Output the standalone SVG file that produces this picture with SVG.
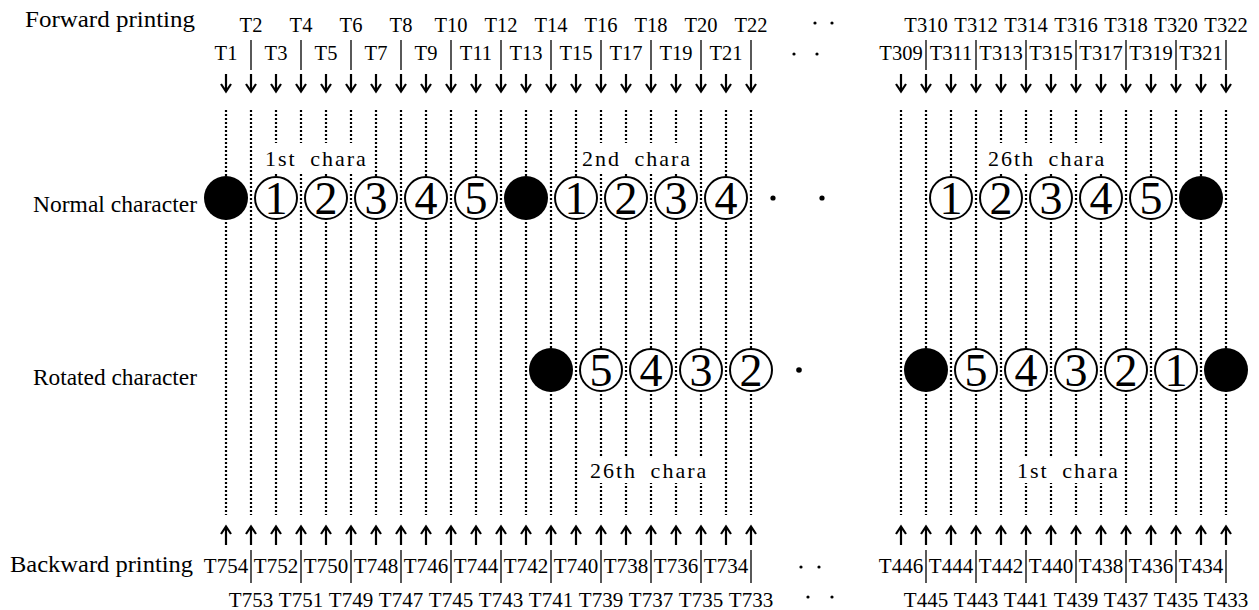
<svg xmlns="http://www.w3.org/2000/svg" xmlns:xlink="http://www.w3.org/1999/xlink" width="1259" height="610" viewBox="0 0 1259 610">
<style>
text{font-family:"Liberation Serif","Times New Roman",serif;fill:#000}
.big{font-size:23px}
.tl{font-size:20.5px;text-anchor:middle}
.bl{font-size:21px;text-anchor:middle}
.ch{font-size:22px;letter-spacing:2px;word-spacing:6px}
.dig{font-size:46px;text-anchor:middle}
.dot{fill:none;stroke:#000;stroke-width:2.2;stroke-dasharray:2 2}
.sep{fill:none;stroke:#000;stroke-width:1.3}
.arr{fill:none;stroke:#000;stroke-width:2.2}
.open{fill:#fff;stroke:#000;stroke-width:2}
.fill{fill:#000}
.bg{fill:#fff}
.pt{fill:#000}
</style>
<defs>
<path id="ad" class="arr" d="M0 74V91M-5 84L0 91.5L5 84"/>
<path id="au" class="arr" d="M0 545V527M-5 534L0 526.5L5 534"/>
</defs>
<rect width="1259" height="610" fill="#fff"/>

<g id="connectors">
<path class="dot" d="M226 110V515M251 110V515M276 110V515M301 110V515M326 110V515M351 110V515M376 110V515M401 110V515M426 110V515M451 110V515M476 110V515M501 110V515M526 110V515M551 110V515M576 110V515M601 110V515M626 110V515M651 110V515M676 110V515M701 110V515M726 110V515M751 110V515M901 110V515M926 110V515M951 110V515M976 110V515M1001 110V515M1026 110V515M1051 110V515M1076 110V515M1101 110V515M1126 110V515M1151 110V515M1176 110V515M1201 110V515M1226 110V515"/>
<g id="arrows-down">
<use xlink:href="#ad" x="226"/><use xlink:href="#ad" x="251"/><use xlink:href="#ad" x="276"/><use xlink:href="#ad" x="301"/><use xlink:href="#ad" x="326"/><use xlink:href="#ad" x="351"/><use xlink:href="#ad" x="376"/><use xlink:href="#ad" x="401"/><use xlink:href="#ad" x="426"/><use xlink:href="#ad" x="451"/><use xlink:href="#ad" x="476"/><use xlink:href="#ad" x="501"/><use xlink:href="#ad" x="526"/><use xlink:href="#ad" x="551"/><use xlink:href="#ad" x="576"/><use xlink:href="#ad" x="601"/><use xlink:href="#ad" x="626"/><use xlink:href="#ad" x="651"/><use xlink:href="#ad" x="676"/><use xlink:href="#ad" x="701"/><use xlink:href="#ad" x="726"/><use xlink:href="#ad" x="751"/>
<use xlink:href="#ad" x="901"/><use xlink:href="#ad" x="926"/><use xlink:href="#ad" x="951"/><use xlink:href="#ad" x="976"/><use xlink:href="#ad" x="1001"/><use xlink:href="#ad" x="1026"/><use xlink:href="#ad" x="1051"/><use xlink:href="#ad" x="1076"/><use xlink:href="#ad" x="1101"/><use xlink:href="#ad" x="1126"/><use xlink:href="#ad" x="1151"/><use xlink:href="#ad" x="1176"/><use xlink:href="#ad" x="1201"/><use xlink:href="#ad" x="1226"/>
</g>
<g id="arrows-up">
<use xlink:href="#au" x="226"/><use xlink:href="#au" x="251"/><use xlink:href="#au" x="276"/><use xlink:href="#au" x="301"/><use xlink:href="#au" x="326"/><use xlink:href="#au" x="351"/><use xlink:href="#au" x="376"/><use xlink:href="#au" x="401"/><use xlink:href="#au" x="426"/><use xlink:href="#au" x="451"/><use xlink:href="#au" x="476"/><use xlink:href="#au" x="501"/><use xlink:href="#au" x="526"/><use xlink:href="#au" x="551"/><use xlink:href="#au" x="576"/><use xlink:href="#au" x="601"/><use xlink:href="#au" x="626"/><use xlink:href="#au" x="651"/><use xlink:href="#au" x="676"/><use xlink:href="#au" x="701"/><use xlink:href="#au" x="726"/><use xlink:href="#au" x="751"/>
<use xlink:href="#au" x="901"/><use xlink:href="#au" x="926"/><use xlink:href="#au" x="951"/><use xlink:href="#au" x="976"/><use xlink:href="#au" x="1001"/><use xlink:href="#au" x="1026"/><use xlink:href="#au" x="1051"/><use xlink:href="#au" x="1076"/><use xlink:href="#au" x="1101"/><use xlink:href="#au" x="1126"/><use xlink:href="#au" x="1151"/><use xlink:href="#au" x="1176"/><use xlink:href="#au" x="1201"/><use xlink:href="#au" x="1226"/>
</g>
<path class="sep" d="M251 40V70M301 40V70M351 40V70M401 40V70M451 40V70M501 40V70M551 40V70M601 40V70M651 40V70M701 40V70M751 40V70M926 40V70M976 40V70M1026 40V70M1076 40V70M1126 40V70M1176 40V70M1226 40V70"/>
<path class="sep" d="M251 550V583M301 550V583M351 550V583M401 550V583M451 550V583M501 550V583M551 550V583M601 550V583M651 550V583M701 550V583M751 550V583M926 550V583M976 550V583M1026 550V583M1076 550V583M1126 550V583M1176 550V583M1226 550V583"/>
</g>

<g id="row-labels">
<text class="big" x="25" y="27" textLength="170" lengthAdjust="spacingAndGlyphs">Forward printing</text>
<text class="big" x="33" y="212" textLength="164" lengthAdjust="spacingAndGlyphs">Normal character</text>
<text class="big" x="33" y="385" textLength="164" lengthAdjust="spacingAndGlyphs">Rotated character</text>
<text class="big" x="10" y="572" textLength="183" lengthAdjust="spacingAndGlyphs">Backward printing</text>
</g>

<g id="forward-labels">
<text class="tl" x="251" y="32">T2</text><text class="tl" x="301" y="32">T4</text><text class="tl" x="351" y="32">T6</text><text class="tl" x="401" y="32">T8</text><text class="tl" x="451" y="32">T10</text><text class="tl" x="501" y="32">T12</text><text class="tl" x="551" y="32">T14</text><text class="tl" x="601" y="32">T16</text><text class="tl" x="651" y="32">T18</text><text class="tl" x="701" y="32">T20</text><text class="tl" x="751" y="32">T22</text>
<text class="tl" x="226" y="60">T1</text><text class="tl" x="276" y="60">T3</text><text class="tl" x="326" y="60">T5</text><text class="tl" x="376" y="60">T7</text><text class="tl" x="426" y="60">T9</text><text class="tl" x="476" y="60">T11</text><text class="tl" x="526" y="60">T13</text><text class="tl" x="576" y="60">T15</text><text class="tl" x="626" y="60">T17</text><text class="tl" x="676" y="60">T19</text><text class="tl" x="726" y="60">T21</text>
<text class="tl" x="926" y="32">T310</text><text class="tl" x="976" y="32">T312</text><text class="tl" x="1026" y="32">T314</text><text class="tl" x="1076" y="32">T316</text><text class="tl" x="1126" y="32">T318</text><text class="tl" x="1176" y="32">T320</text><text class="tl" x="1226" y="32">T322</text>
<text class="tl" x="901" y="60">T309</text><text class="tl" x="951" y="60">T311</text><text class="tl" x="1001" y="60">T313</text><text class="tl" x="1051" y="60">T315</text><text class="tl" x="1101" y="60">T317</text><text class="tl" x="1151" y="60">T319</text><text class="tl" x="1201" y="60">T321</text>
<circle class="pt" cx="815" cy="23" r="1.6"/><circle class="pt" cx="832" cy="23" r="1.6"/>
<circle class="pt" cx="794" cy="54" r="1.6"/><circle class="pt" cx="817" cy="54" r="1.6"/>
</g>

<g id="backward-labels">
<text class="bl" x="226" y="573">T754</text><text class="bl" x="276" y="573">T752</text><text class="bl" x="326" y="573">T750</text><text class="bl" x="376" y="573">T748</text><text class="bl" x="426" y="573">T746</text><text class="bl" x="476" y="573">T744</text><text class="bl" x="526" y="573">T742</text><text class="bl" x="576" y="573">T740</text><text class="bl" x="626" y="573">T738</text><text class="bl" x="676" y="573">T736</text><text class="bl" x="726" y="573">T734</text>
<text class="bl" x="251" y="607">T753</text><text class="bl" x="301" y="607">T751</text><text class="bl" x="351" y="607">T749</text><text class="bl" x="401" y="607">T747</text><text class="bl" x="451" y="607">T745</text><text class="bl" x="501" y="607">T743</text><text class="bl" x="551" y="607">T741</text><text class="bl" x="601" y="607">T739</text><text class="bl" x="651" y="607">T737</text><text class="bl" x="701" y="607">T735</text><text class="bl" x="751" y="607">T733</text>
<text class="bl" x="901" y="573">T446</text><text class="bl" x="951" y="573">T444</text><text class="bl" x="1001" y="573">T442</text><text class="bl" x="1051" y="573">T440</text><text class="bl" x="1101" y="573">T438</text><text class="bl" x="1151" y="573">T436</text><text class="bl" x="1201" y="573">T434</text>
<text class="bl" x="926" y="607">T445</text><text class="bl" x="976" y="607">T443</text><text class="bl" x="1026" y="607">T441</text><text class="bl" x="1076" y="607">T439</text><text class="bl" x="1126" y="607">T437</text><text class="bl" x="1176" y="607">T435</text><text class="bl" x="1226" y="607">T433</text>
<circle class="pt" cx="801" cy="567" r="1.6"/><circle class="pt" cx="819" cy="567" r="1.6"/>
<circle class="pt" cx="808" cy="597" r="1.6"/><circle class="pt" cx="832" cy="597" r="1.6"/>
</g>

<g id="chara-labels">
<g id="label-1st-top"><rect class="bg" x="259" y="143" width="111" height="29"/><text class="ch" x="265" y="166">1st chara</text></g>
<g id="label-2nd-top"><rect class="bg" x="579" y="143" width="119" height="29"/><text class="ch" x="582" y="166">2nd chara</text></g>
<g id="label-26th-top"><rect class="bg" x="980" y="143" width="140" height="29"/><text class="ch" x="988" y="166">26th chara</text></g>
<g id="label-26th-bottom"><rect class="bg" x="580" y="457" width="140" height="26"/><text class="ch" x="590" y="478">26th chara</text></g>
<g id="label-1st-bottom"><rect class="bg" x="1005" y="457" width="117" height="26"/><text class="ch" x="1017" y="478">1st chara</text></g>
</g>

<g id="normal-row">
<g id="n-s1"><circle class="fill" cx="226" cy="198" r="22"/></g>
<g id="n-a1"><circle class="open" cx="276" cy="198" r="21"/><text class="dig" x="276" y="214">1</text></g>
<g id="n-a2"><circle class="open" cx="326" cy="198" r="21"/><text class="dig" x="326" y="214">2</text></g>
<g id="n-a3"><circle class="open" cx="376" cy="198" r="21"/><text class="dig" x="376" y="214">3</text></g>
<g id="n-a4"><circle class="open" cx="426" cy="198" r="21"/><text class="dig" x="426" y="214">4</text></g>
<g id="n-a5"><circle class="open" cx="476" cy="198" r="21"/><text class="dig" x="476" y="214">5</text></g>
<g id="n-s2"><circle class="fill" cx="526" cy="198" r="22"/></g>
<g id="n-b1"><circle class="open" cx="576" cy="198" r="21"/><text class="dig" x="576" y="214">1</text></g>
<g id="n-b2"><circle class="open" cx="626" cy="198" r="21"/><text class="dig" x="626" y="214">2</text></g>
<g id="n-b3"><circle class="open" cx="676" cy="198" r="21"/><text class="dig" x="676" y="214">3</text></g>
<g id="n-b4"><circle class="open" cx="726" cy="198" r="21"/><text class="dig" x="726" y="214">4</text></g>
<circle class="pt" cx="773" cy="198" r="2.6"/><circle class="pt" cx="822" cy="198" r="2.6"/>
<g id="n-z1"><circle class="open" cx="951" cy="198" r="21"/><text class="dig" x="951" y="214">1</text></g>
<g id="n-z2"><circle class="open" cx="1001" cy="198" r="21"/><text class="dig" x="1001" y="214">2</text></g>
<g id="n-z3"><circle class="open" cx="1051" cy="198" r="21"/><text class="dig" x="1051" y="214">3</text></g>
<g id="n-z4"><circle class="open" cx="1101" cy="198" r="21"/><text class="dig" x="1101" y="214">4</text></g>
<g id="n-z5"><circle class="open" cx="1151" cy="198" r="21"/><text class="dig" x="1151" y="214">5</text></g>
<g id="n-s3"><circle class="fill" cx="1201" cy="198" r="22"/></g>
</g>

<g id="rotated-row">
<g id="r-s1"><circle class="fill" cx="551" cy="370" r="22"/></g>
<g id="r-a5"><circle class="open" cx="601" cy="370" r="21"/><text class="dig" x="601" y="386">5</text></g>
<g id="r-a4"><circle class="open" cx="651" cy="370" r="21"/><text class="dig" x="651" y="386">4</text></g>
<g id="r-a3"><circle class="open" cx="701" cy="370" r="21"/><text class="dig" x="701" y="386">3</text></g>
<g id="r-a2"><circle class="open" cx="751" cy="370" r="21"/><text class="dig" x="751" y="386">2</text></g>
<circle class="pt" cx="799" cy="370" r="2.8"/>
<g id="r-s2"><circle class="fill" cx="926" cy="370" r="22"/></g>
<g id="r-b5"><circle class="open" cx="976" cy="370" r="21"/><text class="dig" x="976" y="386">5</text></g>
<g id="r-b4"><circle class="open" cx="1026" cy="370" r="21"/><text class="dig" x="1026" y="386">4</text></g>
<g id="r-b3"><circle class="open" cx="1076" cy="370" r="21"/><text class="dig" x="1076" y="386">3</text></g>
<g id="r-b2"><circle class="open" cx="1126" cy="370" r="21"/><text class="dig" x="1126" y="386">2</text></g>
<g id="r-b1"><circle class="open" cx="1176" cy="370" r="21"/><text class="dig" x="1176" y="386">1</text></g>
<g id="r-s3"><circle class="fill" cx="1226" cy="370" r="22"/></g>
</g>
</svg>
